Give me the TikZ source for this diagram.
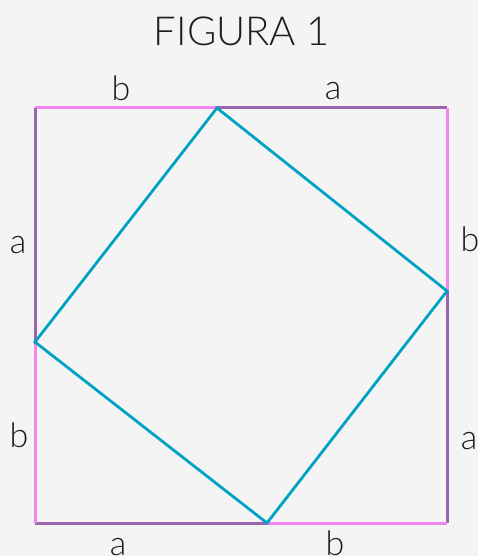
\documentclass[tikz,border=0pt]{standalone}
\usepackage{fontspec}
\setmainfont{Lato Light}
\begin{document}
\begin{tikzpicture}[x=1pt,y=-1pt,
  pinkline/.style={draw=pinkc,line width=3pt},
  purpleline/.style={draw=purplec,line width=3pt},
  tealline/.style={draw=tealc,line width=2.8pt,line join=miter},
  lbl/.style={anchor=base,inner sep=0pt,font=\fontsize{34}{38}\selectfont,text=textc}]
\definecolor{bgc}{HTML}{F4F4F4}
\definecolor{pinkc}{HTML}{F285EE}
\definecolor{purplec}{HTML}{9A65AA}
\definecolor{tealc}{HTML}{00A3C3}
\definecolor{textc}{HTML}{1E1E1E}
\fill[bgc] (0,0) rectangle (478,556);
\useasboundingbox (0,0) rectangle (478,556);
% corners
\coordinate (tl) at (35,108);
\coordinate (tr) at (447,108);
\coordinate (br) at (447,523);
\coordinate (bl) at (35,523);
% split points / inner vertices
\coordinate (pt) at (217,108);
\coordinate (pr) at (447,291);
\coordinate (pb) at (267,523);
\coordinate (pl) at (35,342);
% outer square
\draw[pinkline] (tl) -- (pt);
\draw[purpleline] (pt) -- (tr);
\draw[pinkline] (tr) -- (pr);
\draw[purpleline] (pr) -- (br);
\draw[pinkline] (br) -- (pb);
\draw[purpleline] (pb) -- (bl);
\draw[pinkline] (bl) -- (pl);
\draw[purpleline] (pl) -- (tl);
% inner square
\draw[tealline] (pt) -- (pr) -- (pb) -- (pl) -- cycle;
% title
\node[anchor=base,inner sep=0pt,font=\fontsize{40}{44}\selectfont,text=textc] (title) at (242,46) {FIGURA 1};
% labels
\node[lbl] (lt1) at (121,101) {b};
\node[lbl] (lt2) at (333,100) {a};
\node[lbl] (ll1) at (18,253) {a};
\node[lbl] (ll2) at (19,447) {b};
\node[lbl] (lr1) at (470,251) {b};
\node[lbl] (lr2) at (469,449) {a};
\node[lbl] (lb1) at (118,555) {a};
\node[lbl] (lb2) at (335,555) {b};
\end{tikzpicture}
\end{document}
